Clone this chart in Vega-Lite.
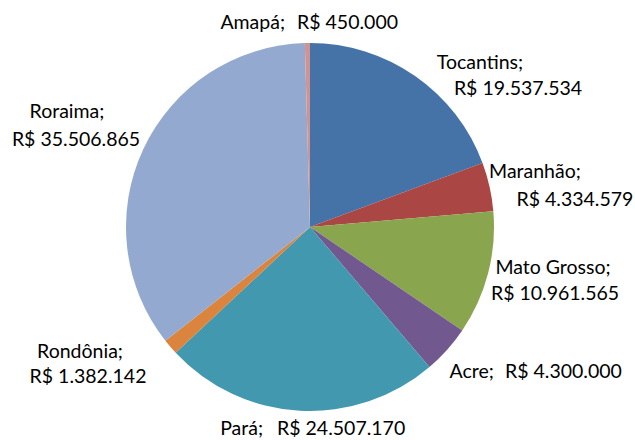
{
  "$schema": "https://vega.github.io/schema/vega-lite/v6.json",
  "width": 620,
  "height": 426,
  "autosize": {"type": "none"},
  "padding": {"left": 0, "top": 14, "right": 15, "bottom": 0},
  "background": "white",
  "config": {
    "view": {"stroke": null},
    "locale": {"number": {"decimal": ",", "thousands": ".", "grouping": [3], "currency": ["R$ ", ""]}},
    "text": {"font": "Lato", "fontSize": 19.5, "color": "#000000"}
  },
  "data": {
    "values": [
      {"estado": "Tocantins", "valor": 19537534},
      {"estado": "Maranhão", "valor": 4334579},
      {"estado": "Mato Grosso", "valor": 10961565},
      {"estado": "Acre", "valor": 4300000},
      {"estado": "Pará", "valor": 24507170},
      {"estado": "Rondônia", "valor": 1382142},
      {"estado": "Roraima", "valor": 35506865},
      {"estado": "Amapá", "valor": 450000}
    ]
  },
  "transform": [
    {"window": [{"op": "row_number", "as": "ordem"}]},
    {"calculate": "datum.estado + ';'", "as": "nome"}
  ],
  "encoding": {
    "theta": {"field": "valor", "type": "quantitative", "stack": true},
    "order": {"field": "ordem", "type": "quantitative"},
    "detail": {"field": "estado", "type": "nominal"}
  },
  "layer": [
    {
      "mark": {"type": "arc", "outerRadius": 184},
      "encoding": {
        "color": {
          "field": "estado",
          "type": "nominal",
          "legend": null,
          "scale": {
            "domain": ["Tocantins", "Maranhão", "Mato Grosso", "Acre", "Pará", "Rondônia", "Roraima", "Amapá"],
            "range": ["#4572A7", "#AA4643", "#89A54E", "#71588F", "#4198AF", "#DB843D", "#93A9CF", "#D19392"]
          }
        }
      }
    },
    {
      "mark": {"type": "text", "radius": 184, "align": "right", "baseline": "middle", "dx": -22.4, "dy": -20},
      "encoding": {"text": {"condition": {"test": "datum.estado !== 'Amapá'", "value": ""}, "field": "nome", "type": "nominal"}}
    },
    {
      "mark": {"type": "text", "radius": 184, "align": "left", "baseline": "middle", "dx": -10.4, "dy": -20},
      "encoding": {"text": {"condition": {"test": "datum.estado !== 'Amapá'", "value": ""}, "field": "valor", "type": "quantitative", "format": "$,.0f"}}
    },
    {
      "mark": {"type": "text", "radius": 184, "align": "center", "baseline": "middle", "dx": 64.9, "dy": -13},
      "encoding": {"text": {"condition": {"test": "datum.estado !== 'Tocantins'", "value": ""}, "field": "nome", "type": "nominal"}}
    },
    {
      "mark": {"type": "text", "radius": 184, "align": "center", "baseline": "middle", "dx": 102.9, "dy": 13},
      "encoding": {"text": {"condition": {"test": "datum.estado !== 'Tocantins'", "value": ""}, "field": "valor", "type": "quantitative", "format": "$,.0f"}}
    },
    {
      "mark": {"type": "text", "radius": 184, "align": "center", "baseline": "middle", "dx": 45.4, "dy": -14.8},
      "encoding": {"text": {"condition": {"test": "datum.estado !== 'Maranhão'", "value": ""}, "field": "nome", "type": "nominal"}}
    },
    {
      "mark": {"type": "text", "radius": 184, "align": "center", "baseline": "middle", "dx": 85.4, "dy": 13.2},
      "encoding": {"text": {"condition": {"test": "datum.estado !== 'Maranhão'", "value": ""}, "field": "valor", "type": "quantitative", "format": "$,.0f"}}
    },
    {
      "mark": {"type": "text", "radius": 184, "align": "center", "baseline": "middle", "dx": 65, "dy": -5.5},
      "encoding": {"text": {"condition": {"test": "datum.estado !== 'Mato Grosso'", "value": ""}, "field": "nome", "type": "nominal"}}
    },
    {
      "mark": {"type": "text", "radius": 184, "align": "center", "baseline": "middle", "dx": 67, "dy": 20.5},
      "encoding": {"text": {"condition": {"test": "datum.estado !== 'Mato Grosso'", "value": ""}, "field": "valor", "type": "quantitative", "format": "$,.0f"}}
    },
    {
      "mark": {"type": "text", "radius": 184, "align": "right", "baseline": "middle", "dx": 46.9, "dy": 22.2},
      "encoding": {"text": {"condition": {"test": "datum.estado !== 'Acre'", "value": ""}, "field": "nome", "type": "nominal"}}
    },
    {
      "mark": {"type": "text", "radius": 184, "align": "left", "baseline": "middle", "dx": 57.9, "dy": 22.2},
      "encoding": {"text": {"condition": {"test": "datum.estado !== 'Acre'", "value": ""}, "field": "valor", "type": "quantitative", "format": "$,.0f"}}
    },
    {
      "mark": {"type": "text", "radius": 184, "align": "right", "baseline": "middle", "dx": -36.7, "dy": 18.3},
      "encoding": {"text": {"condition": {"test": "datum.estado !== 'Pará'", "value": ""}, "field": "nome", "type": "nominal"}}
    },
    {
      "mark": {"type": "text", "radius": 184, "align": "left", "baseline": "middle", "dx": -22.7, "dy": 18.3},
      "encoding": {"text": {"condition": {"test": "datum.estado !== 'Pará'", "value": ""}, "field": "valor", "type": "quantitative", "format": "$,.0f"}}
    },
    {
      "mark": {"type": "text", "radius": 184, "align": "center", "baseline": "middle", "dx": -90.4, "dy": 5.6},
      "encoding": {"text": {"condition": {"test": "datum.estado !== 'Rondônia'", "value": ""}, "field": "nome", "type": "nominal"}}
    },
    {
      "mark": {"type": "text", "radius": 184, "align": "center", "baseline": "middle", "dx": -82.4, "dy": 30.6},
      "encoding": {"text": {"condition": {"test": "datum.estado !== 'Rondônia'", "value": ""}, "field": "valor", "type": "quantitative", "format": "$,.0f"}}
    },
    {
      "mark": {"type": "text", "radius": 184, "align": "center", "baseline": "middle", "dx": -76.4, "dy": -36.9},
      "encoding": {"text": {"condition": {"test": "datum.estado !== 'Roraima'", "value": ""}, "field": "nome", "type": "nominal"}}
    },
    {
      "mark": {"type": "text", "radius": 184, "align": "center", "baseline": "middle", "dx": -67.4, "dy": -8.9},
      "encoding": {"text": {"condition": {"test": "datum.estado !== 'Roraima'", "value": ""}, "field": "valor", "type": "quantitative", "format": "$,.0f"}}
    }
  ]
}
